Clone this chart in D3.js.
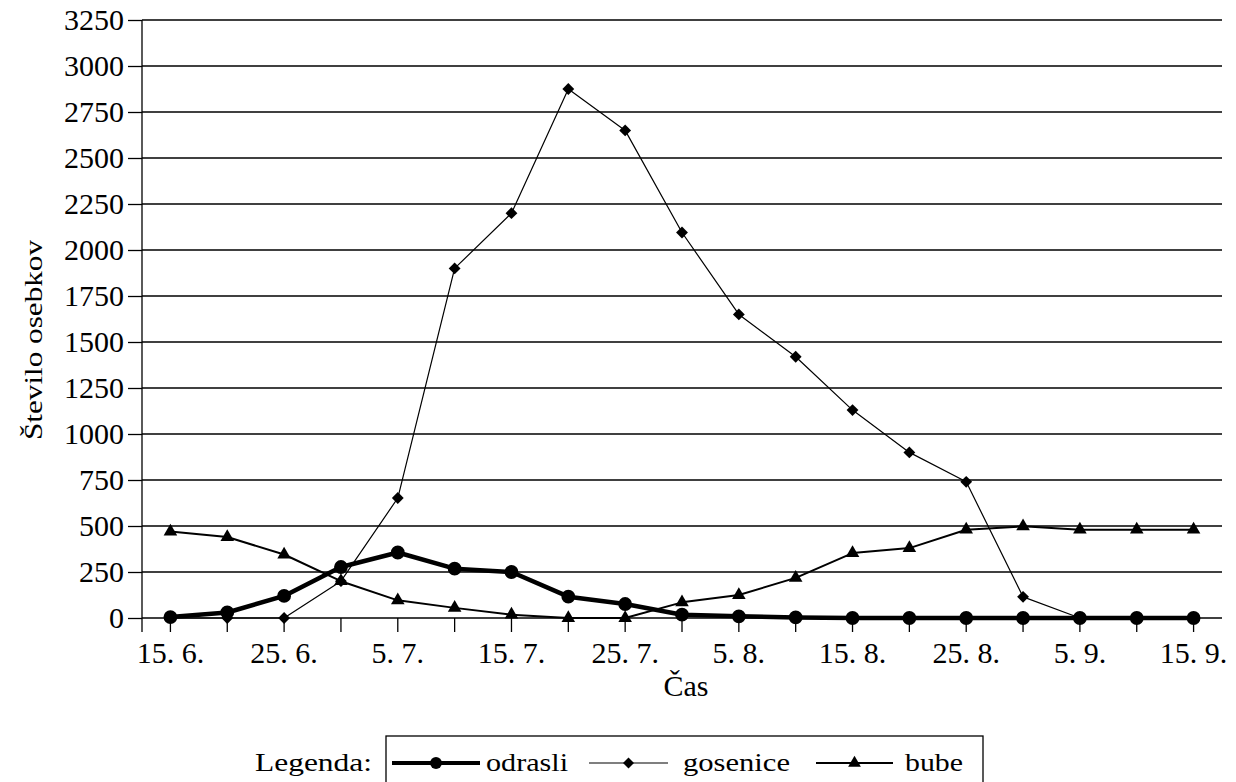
<!DOCTYPE html>
<html>
<head>
<meta charset="utf-8">
<script src="https://cdn.jsdelivr.net/npm/d3@7"></script>
</head>
<body style="margin:0">
<div class="canvas"></div>
<script>
// data
const dates = ['15. 6.', '20. 6.', '25. 6.', '30. 6.', '5. 7.', '10. 7.', '15. 7.', '20. 7.', '25. 7.', '30. 7.',
  '5. 8.', '10. 8.', '15. 8.', '20. 8.', '25. 8.', '30. 8.', '5. 9.', '10. 9.', '15. 9.'];
const odrasli = [5, 30, 120, 277, 356, 268, 250, 116, 76, 18, 9, 3, 0, 0, 0, 0, 0, 0, 0];
const gosenice = [0, 0, 0, 200, 652, 1900, 2200, 2875, 2650, 2095, 1650, 1420, 1130, 900, 740, 115, 0, 0, 0];
const bube = [470, 440, 345, 200, 96, 55, 18, 0, 0, 85, 125, 218, 353, 380, 480, 498, 480, 480, 480];
const yTicks = [0, 250, 500, 750, 1000, 1250, 1500, 1750, 2000, 2250, 2500, 2750, 3000, 3250];
const legendNames = ['odrasli', 'gosenice', 'bube'];

const svg = d3.select('.canvas')
  .append('svg')
  .attr('width', 1236)
  .attr('height', 782);

// margins and dimensions
const margin = { top: 20, right: 14, bottom: 164, left: 142 };
const graphWidth = 1236 - margin.left - margin.right;
const graphHeight = 782 - margin.top - margin.bottom;

const graph = svg.append('g')
  .attr('transform', `translate(${margin.left}, ${margin.top})`);

// scales
const x = d3.scaleBand()
  .domain(dates)
  .range([0, graphWidth]);

const y = d3.scaleLinear()
  .domain([0, 3250])
  .range([graphHeight, 0]);

const cx = d => x(d) + x.bandwidth() / 2;

// gridlines
graph.append('g')
  .selectAll('line')
  .data(yTicks)
  .enter()
  .append('line')
  .attr('x1', 0)
  .attr('x2', graphWidth)
  .attr('y1', d => y(d))
  .attr('y2', d => y(d))
  .attr('stroke', '#000')
  .attr('stroke-width', 1.3);

// axes
const yAxis = d3.axisLeft(y)
  .tickValues(yTicks)
  .tickFormat(d3.format('d'))
  .tickSize(14)
  .tickPadding(4);

const yAxisGroup = graph.append('g').call(yAxis);
yAxisGroup.select('.domain').remove();
yAxisGroup.selectAll('line').attr('stroke-width', 1.3);
yAxisGroup.selectAll('text').attr('font-size', 30);

const xAxis = d3.axisBottom(x)
  .tickSize(14)
  .tickPadding(10)
  .tickFormat((d, i) => i % 2 === 0 ? d : '');

const xAxisGroup = graph.append('g')
  .attr('transform', `translate(0, ${graphHeight})`)
  .call(xAxis);
xAxisGroup.select('.domain').remove();
xAxisGroup.selectAll('line').attr('stroke-width', 1.3);
xAxisGroup.selectAll('text').attr('font-size', 30);

// vertical axis line, extends below the zero line like the ticks
graph.append('line')
  .attr('x1', 0).attr('x2', 0)
  .attr('y1', y(3250)).attr('y2', graphHeight + 14)
  .attr('stroke', '#000')
  .attr('stroke-width', 1.3);

// series
const series = [
  { name: 'gosenice', values: gosenice, width: 1.2, symbol: d3.symbolSquare, size: 70, rotate: 45 },
  { name: 'bube', values: bube, width: 2, symbol: d3.symbolTriangle, size: 80, rotate: 0 },
  { name: 'odrasli', values: odrasli, width: 4.5, symbol: d3.symbolCircle, size: 150, rotate: 0 }
];

const line = d3.line()
  .x((d, i) => cx(dates[i]))
  .y(d => y(d));

series.forEach(s => {
  graph.append('path')
    .datum(s.values)
    .attr('d', line)
    .attr('fill', 'none')
    .attr('stroke', '#000')
    .attr('stroke-width', s.width)
    .attr('stroke-linejoin', 'round');

  graph.append('g')
    .selectAll('path')
    .data(s.values)
    .enter()
    .append('path')
    .attr('d', d3.symbol().type(s.symbol).size(s.size))
    .attr('transform', (d, i) => `translate(${cx(dates[i])}, ${y(d)}) rotate(${s.rotate})`)
    .attr('fill', '#000');
});

// axis titles
svg.append('text')
  .attr('x', 686)
  .attr('y', 696)
  .attr('text-anchor', 'middle')
  .attr('font-size', 30)
  .text('Čas');

svg.append('text')
  .attr('transform', 'translate(42, 340) rotate(-90)')
  .attr('text-anchor', 'middle')
  .attr('font-size', 26)
  .attr('textLength', 200)
  .attr('lengthAdjust', 'spacingAndGlyphs')
  .text('Število osebkov');

// legend
const legend = svg.append('g');

legend.append('text')
  .attr('x', 255)
  .attr('y', 771)
  .attr('font-size', 26)
  .attr('textLength', 117)
  .attr('lengthAdjust', 'spacingAndGlyphs')
  .text('Legenda:');

legend.append('rect')
  .attr('x', 386)
  .attr('y', 736)
  .attr('width', 597)
  .attr('height', 70)
  .attr('fill', 'none')
  .attr('stroke', '#000')
  .attr('stroke-width', 1.3);

const legendItems = [
  { name: legendNames[0], x1: 392, x2: 480, tx: 486, tl: 82, width: 4, symbol: d3.symbolCircle, size: 110, rotate: 0 },
  { name: legendNames[1], x1: 589, x2: 668, tx: 683, tl: 107, width: 1.2, symbol: d3.symbolSquare, size: 60, rotate: 45 },
  { name: legendNames[2], x1: 816, x2: 893, tx: 905, tl: 58, width: 2, symbol: d3.symbolTriangle, size: 70, rotate: 0 }
];

legendItems.forEach(item => {
  legend.append('line')
    .attr('x1', item.x1).attr('x2', item.x2)
    .attr('y1', 763).attr('y2', 763)
    .attr('stroke', '#000')
    .attr('stroke-width', item.width);
  legend.append('path')
    .attr('d', d3.symbol().type(item.symbol).size(item.size))
    .attr('transform', `translate(${(item.x1 + item.x2) / 2}, 763) rotate(${item.rotate})`)
    .attr('fill', '#000');
  legend.append('text')
    .attr('x', item.tx)
    .attr('y', 771)
    .attr('font-size', 26)
    .attr('textLength', item.tl)
    .attr('lengthAdjust', 'spacingAndGlyphs')
    .text(item.name);
});

// set the serif face on every text element directly
svg.selectAll('text')
  .attr('font-family', 'Liberation Serif')
  .style('font-family', '"Liberation Serif"');
</script>
</body>
</html>
